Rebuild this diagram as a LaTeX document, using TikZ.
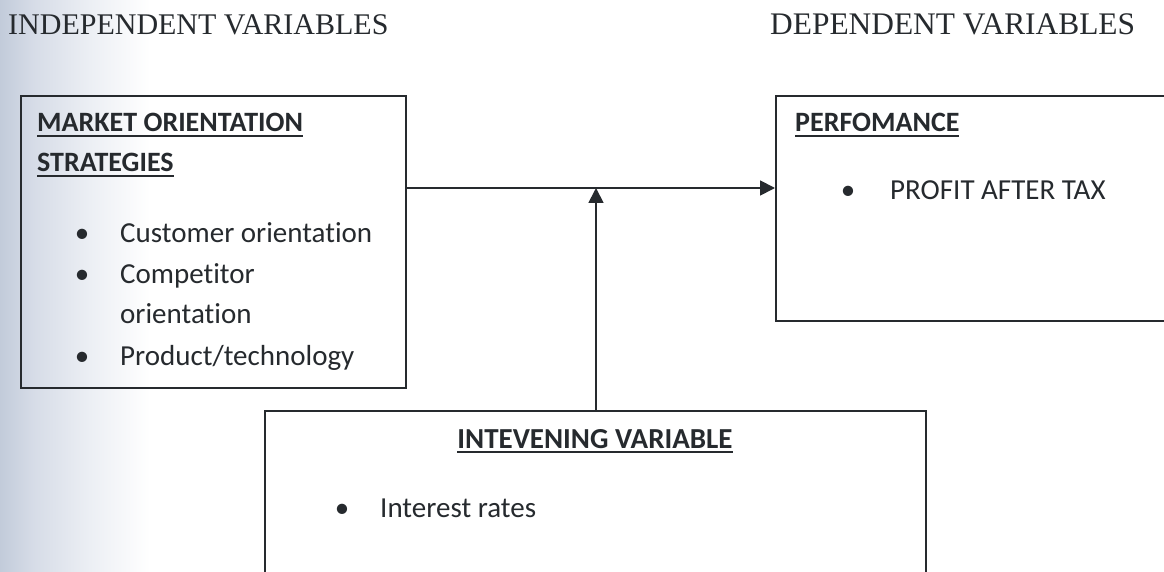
\documentclass[tikz,border=0pt]{standalone}
\usepackage{fontspec}
\setmainfont{Liberation Serif}
\newfontfamily\bodyfont[Ligatures=NoCommon]{Carlito}
\usetikzlibrary{arrows.meta}
\definecolor{inkgray}{RGB}{38,42,46}
\definecolor{edgeA}{RGB}{194,203,218}
\definecolor{edgeB}{RGB}{214,220,231}
\definecolor{edgeC}{RGB}{236,239,244}
% soft bluish tint along the left margin (the shaded path spans 25bp to 75bp)
\pgfdeclarehorizontalshading{leftmargin}{100bp}{color(0bp)=(edgeA); color(25bp)=(edgeA); color(36bp)=(edgeB); color(55bp)=(edgeC); color(75bp)=(white); color(100bp)=(white)}
% underlined heading: text with a thick rule just below the baseline
\newcommand\headul[1]{\vtop{\hbox{#1}\kern3pt\hrule height 2pt}}
\tikzset{
  frame/.style={draw=inkgray, line width=1.8pt},
  link/.style={draw=inkgray, line width=1.8pt, -{Triangle[length=15pt,width=15pt]}},
  title/.style={inner sep=0pt, anchor=base west, text=inkgray, font=\fontsize{30}{36}\selectfont},
  head/.style={inner sep=0pt, text=inkgray, font=\bodyfont\bfseries\fontsize{28}{34}\selectfont},
  item/.style={inner sep=0pt, anchor=base west, text=inkgray, font=\bodyfont\fontsize{29}{35}\selectfont},
  dot/.style={inner sep=0pt, anchor=base, text=inkgray, font=\bodyfont\fontsize{29}{35}\selectfont},
}
\begin{document}
\begin{tikzpicture}[x=1pt,y=-1pt]
\useasboundingbox (0,0) rectangle (1164,572);
\fill[white] (0,0) rectangle (1164,572);
\shade[shading=leftmargin] (0,0) rectangle (150,572);

% column titles
\node[title] (tind) at (8,35) {INDEPENDENT VARIABLES};
\node[title, font=\fontsize{31.4}{37}\selectfont] (tdep) at (770,35) {DEPENDENT VARIABLES};

% boxes
\node[frame, inner sep=0pt, minimum width=385pt, minimum height=292pt, anchor=north west] (mos) at (20,95) {};
\node[frame, inner sep=0pt, minimum width=400pt, minimum height=225pt, anchor=north west] (perf) at (775,95) {};
\node[frame, inner sep=0pt, minimum width=661pt, minimum height=200pt, anchor=north west] (inter) at (264,410) {};

% market orientation box text
\node[head, anchor=base west] (h1) at (37,132) {\headul{MARKET ORIENTATION}};
\node[head, anchor=base west] (h2) at (37,172) {\headul{STRATEGIES}};
\node[dot] (b1) at (82,242) {•};
\node[item] (i1) at (120,242) {Customer orientation};
\node[dot] (b2) at (82,283) {•};
\node[item] (i2) at (120,283) {Competitor};
\node[item] (i3) at (120,323) {orientation};
\node[dot] (b3) at (82,365) {•};
\node[item] (i4) at (120,365) {Product/technology};

% performance box text
\node[head, anchor=base west] (h3) at (795,132) {\headul{PERFOMANCE}};
\node[dot] (b4) at (848,200) {•};
\node[item] (i5) at (890,200) {PROFIT AFTER TAX};

% intervening box text
\node[head, anchor=base, font=\bodyfont\bfseries\fontsize{29}{35}\selectfont] (h4) at (595,448) {\headul{INTEVENING VARIABLE}};
\node[dot] (b5) at (342,517) {•};
\node[item] (i6) at (380,517) {Interest rates};

% connectors
\coordinate (join) at (596,188);
\draw[link] (mos.east |- join) -- (perf.west |- join);
\draw[link] (inter.north -| join) -- (join);
\end{tikzpicture}
\end{document}
